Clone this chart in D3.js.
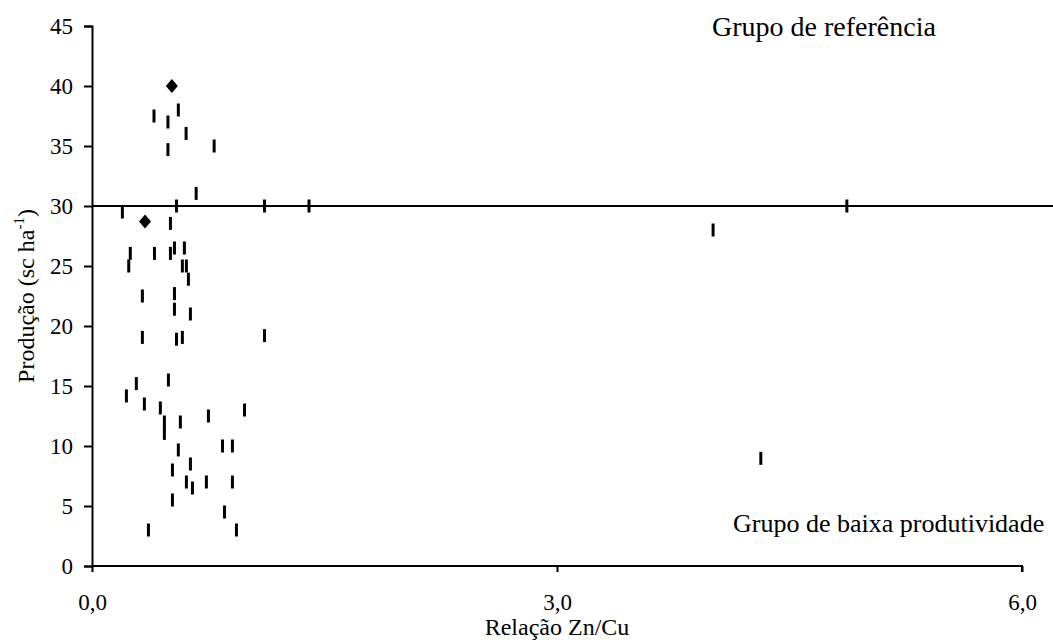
<!DOCTYPE html>
<html>
<head>
<meta charset="utf-8">
<script src="https://cdn.jsdelivr.net/npm/d3@7"></script>
<style>
  body { margin: 0; background: #fff; }
  text { font-family: "Liberation Serif", "Times New Roman", serif; fill: #000; }
</style>
</head>
<body>
<div id="chart"></div>
<script>
// Zn/Cu ratio vs yield, one dash per field
const zncu = [0.40, 0.557, 0.49, 0.607, 0.49, 0.788, 0.672, 0.545, 1.113, 1.40, 4.87,
  0.196, 0.506, 4.007, 0.247, 0.403, 0.506, 0.532, 0.596, 0.237, 0.583, 0.609, 0.622,
  0.325, 0.532, 0.532, 0.635, 0.325, 0.545, 0.583, 1.113, 0.493, 0.286, 0.222, 0.338,
  0.441, 0.467, 0.467, 0.57, 0.751, 0.984, 0.557, 0.842, 0.906, 0.635, 0.519, 0.609,
  0.648, 0.738, 0.906, 0.519, 0.855, 0.364, 0.932, 4.315];
const producao = [37.5, 38.0, 37.0, 36.05, 34.7, 35.0, 31.05, 30.0, 30.0, 30.0, 30.0,
  29.5, 28.55, 28.0, 26.05, 26.05, 26.05, 26.5, 26.5, 25.0, 25.0, 25.0, 23.9,
  22.5, 22.7, 21.4, 21.0, 19.05, 18.9, 19.05, 19.2, 15.5, 15.2, 14.17, 13.5,
  13.17, 12.0, 11.05, 12.0, 12.5, 13.0, 9.67, 10.0, 10.0, 8.5, 8.0, 7.0,
  6.5, 7.0, 7.0, 5.5, 4.5, 3.0, 3.0, 8.97];

// group means (diamonds)
const mediaZnCu = [0.515, 0.342];
const mediaProd = [40.0, 28.7];

const limite = 30;            // yield threshold
const xTicks = [0, 3, 6];
const yTicks = [0, 5, 10, 15, 20, 25, 30, 35, 40, 45];

const W = 1053, H = 643;
const margin = {top: 26, right: 31, bottom: 77, left: 92};
const width = W - margin.left - margin.right;
const height = H - margin.top - margin.bottom;

const svg = d3.select('#chart').append('svg')
  .attr('width', W).attr('height', H);
const g = svg.append('g')
  .attr('transform', 'translate(' + margin.left + ',' + margin.top + ')');

const x = d3.scaleLinear().domain([0, 6]).range([0, width]);
const y = d3.scaleLinear().domain([0, 45]).range([height, 0]);

// axes
const xAxis = g.append('g')
  .attr('transform', 'translate(0,' + height + ')')
  .call(d3.axisBottom(x).tickValues(xTicks).tickSize(6).tickPadding(22)
    .tickFormat(d => d3.format('.1f')(d).replace('.', ',')));
const yAxis = g.append('g')
  .call(d3.axisLeft(y).tickValues(yTicks).tickSize(8).tickPadding(11));

[xAxis, yAxis].forEach(a => {
  a.select('.domain').attr('stroke', '#000').attr('stroke-width', 2);
  a.selectAll('.tick line').attr('stroke', '#000').attr('stroke-width', 2);
  a.selectAll('.tick text').style('font-size', '23px')
    .style('font-family', '"Liberation Serif", serif');
});
xAxis.select('.domain').attr('d', 'M0,0H' + width + 'V6');

// threshold line
g.append('line')
  .attr('x1', x(0)).attr('x2', x(6.2))
  .attr('y1', y(limite)).attr('y2', y(limite))
  .attr('stroke', '#000').attr('stroke-width', 2);

// dashes
g.selectAll('line.ponto')
  .data(d3.range(zncu.length))
  .enter().append('line')
  .attr('class', 'ponto')
  .attr('x1', i => x(zncu[i])).attr('x2', i => x(zncu[i]))
  .attr('y1', i => y(producao[i]) - 6.5).attr('y2', i => y(producao[i]) + 6.5)
  .attr('stroke', '#000').attr('stroke-width', 3);

// diamonds
g.selectAll('path.media')
  .data(d3.range(mediaZnCu.length))
  .enter().append('path')
  .attr('class', 'media')
  .attr('transform', i => 'translate(' + x(mediaZnCu[i]) + ',' + y(mediaProd[i]) + ')')
  .attr('d', 'M0,-7L6,0L0,7L-6,0Z')
  .attr('fill', '#000');

// labels
svg.append('text')
  .attr('x', 712).attr('y', 36)
  .style('font-size', '28px')
  .text('Grupo de referência');

svg.append('text')
  .attr('x', 733).attr('y', 532)
  .style('font-size', '26px')
  .text('Grupo de baixa produtividade');

svg.append('text')
  .attr('x', margin.left + width / 2).attr('y', 635)
  .attr('text-anchor', 'middle')
  .style('font-size', '24px')
  .text('Relação Zn/Cu');

const yl = svg.append('text')
  .attr('transform', 'translate(34,' + (margin.top + height / 2) + ') rotate(-90)')
  .attr('text-anchor', 'middle')
  .style('font-size', '24px');
yl.append('tspan').text('Produção (sc ha');
yl.append('tspan').attr('dy', -10).style('font-size', '15px').text('-1');
yl.append('tspan').attr('dy', 10).text(')');
</script>
</body>
</html>
